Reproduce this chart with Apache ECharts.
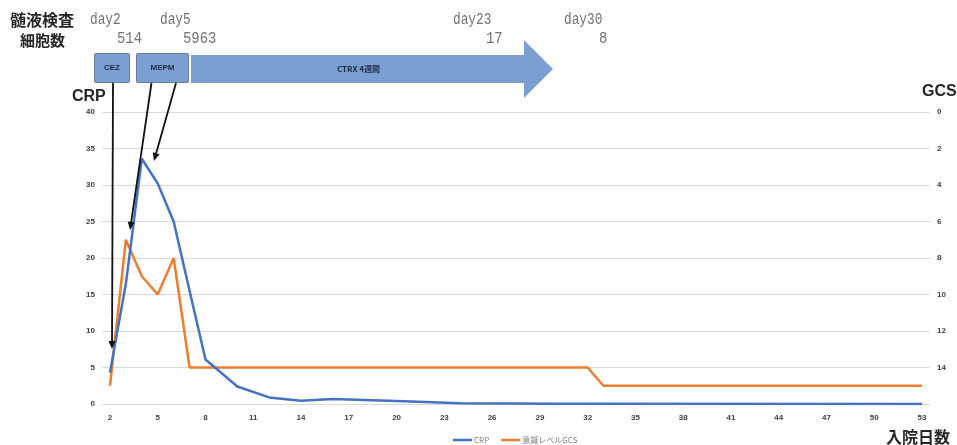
<!DOCTYPE html>
<html>
<head>
<meta charset="utf-8">
<script src="https://cdn.jsdelivr.net/npm/echarts@6/dist/echarts.min.js"></script>
<style>
  html, body { margin: 0; padding: 0; background: #fff; }
  #chart { width: 957px; height: 445px; }
</style>
</head>
<body>
<div id="chart"></div>
<script>
// Hospital days on the category axis
const days = [2,3,4,5,6,7,8,9,10,11,12,13,14,15,16,17,18,19,20,21,22,23,24,25,26,27,
  28,29,30,31,32,33,34,35,36,37,38,39,40,41,42,43,44,45,46,47,48,49,50,51,52,53];

// CRP measurements (mg/dL) on the days they were taken
const crpDays   = [2,   3,    4,    5,    6,  7,    8,   10,  12,  14,   16,  20,  24,  30,   53];
const crpValues = [4.3, 16.5, 33.6, 30.2, 25, 15.5, 6.1, 2.4, 0.9, 0.45, 0.7, 0.4, 0.1, 0.05, 0];

// Glasgow Coma Scale on the days it changed
const gcsDays   = [2,  3, 4, 5,  6, 7,  32, 33, 53];
const gcsValues = [15, 7, 9, 10, 8, 14, 14, 15, 15];

// Cerebrospinal fluid cell counts
const csfDayLabels = ['day2', 'day5', 'day23', 'day30'];
const csfCellCounts = ['514', '5963', '17', '8'];

// Antibiotic courses
const drugNames = ['CEZ', 'MEPM', 'CTRX 4週間'];

const seriesNames = ['CRP', '意識レベルGCS'];

function toSeries(readDays, readValues) {
  return days.map(d => {
    const i = readDays.indexOf(d);
    return i >= 0 ? readValues[i] : null;
  });
}

const chart = echarts.init(document.getElementById('chart'), null, { renderer: 'canvas' });

const tickFont = { fontSize: 8, fontWeight: 'bold', color: '#404040', fontFamily: 'Liberation Sans, Arial, sans-serif' };
const boxFill = '#7b9fd2';

// Small helper for the black pointer arrows
function arrow(x1, y1, x2, y2) {
  const ang = Math.atan2(y2 - y1, x2 - x1);
  const len = 8, w = 3.5;
  const bx = x2 - len * Math.cos(ang), by = y2 - len * Math.sin(ang);
  const px = -Math.sin(ang) * w, py = Math.cos(ang) * w;
  return [
    { type: 'line', shape: { x1: x1, y1: y1, x2: bx, y2: by }, style: { stroke: '#111', lineWidth: 1.8 }, z: 100 },
    { type: 'polygon', shape: { points: [[x2, y2], [bx + px, by + py], [bx - px, by - py]] }, style: { fill: '#111' }, z: 100 }
  ];
}

function monoText(text, x, y, size, sx, color) {
  return {
    type: 'text', x: x, y: y, scaleX: sx, z: 100,
    style: { text: text, fontSize: size, fontFamily: 'Liberation Mono, DejaVu Sans Mono, monospace',
      fill: color, textVerticalAlign: 'middle' }
  };
}

const cjkFont = '"Noto Sans CJK JP", sans-serif';

const graphics = [
  { type: 'text', x: 10, y: 20, z: 100, style: { text: '髄液検査', fontSize: 16, fontWeight: 'bold', fontFamily: cjkFont, fill: '#262626', textVerticalAlign: 'middle' } },
  { type: 'text', x: 20, y: 40, z: 100, style: { text: '細胞数', fontSize: 15, fontWeight: 'bold', fontFamily: cjkFont, fill: '#262626', textVerticalAlign: 'middle' } },

  monoText(csfDayLabels[0], 90, 20, 16, 0.8, '#767171'),
  monoText(csfCellCounts[0], 117, 38, 17, 0.82, '#767171'),
  monoText(csfDayLabels[1], 160, 20, 16, 0.8, '#767171'),
  monoText(csfCellCounts[1], 183, 38, 17, 0.82, '#767171'),
  monoText(csfDayLabels[2], 453, 20, 16, 0.8, '#767171'),
  monoText(csfCellCounts[2], 486, 38, 17, 0.82, '#767171'),
  monoText(csfDayLabels[3], 564, 20, 16, 0.8, '#767171'),
  monoText(csfCellCounts[3], 599, 38, 17, 0.82, '#767171'),

  // CEZ box
  { type: 'rect', shape: { x: 94.5, y: 53.5, width: 35, height: 29, r: 1 }, style: { fill: boxFill, stroke: '#6d7b92', lineWidth: 1 }, z: 90 },
  { type: 'text', x: 112, y: 68, z: 100, style: { text: drugNames[0], fontSize: 8, fontWeight: 'bold', fontFamily: 'Liberation Sans, Arial, sans-serif', fill: '#1f2b45', textAlign: 'center', textVerticalAlign: 'middle' } },
  // MEPM box
  { type: 'rect', shape: { x: 136.5, y: 53.5, width: 52, height: 29, r: 1 }, style: { fill: boxFill, stroke: '#6d7b92', lineWidth: 1 }, z: 90 },
  { type: 'text', x: 162.5, y: 68, z: 100, style: { text: drugNames[1], fontSize: 8, fontWeight: 'bold', fontFamily: 'Liberation Sans, Arial, sans-serif', fill: '#1f2b45', textAlign: 'center', textVerticalAlign: 'middle' } },
  // CTRX block arrow
  { type: 'polygon', shape: { points: [[191, 55], [524, 55], [524, 40], [553, 69], [524, 98], [524, 83], [191, 83]] }, style: { fill: boxFill }, z: 90 },
  { type: 'text', x: 337, y: 69, z: 100, style: { text: drugNames[2], fontSize: 8, fontWeight: 'bold', fontFamily: '"Noto Sans CJK JP", sans-serif', fill: '#1f2b45', textVerticalAlign: 'middle' } },

  // Axis titles
  { type: 'text', x: 72, y: 97, z: 100, style: { text: 'CRP', fontSize: 16, fontWeight: 'bold', fontFamily: 'Liberation Sans, Arial, sans-serif', fill: '#262626', textVerticalAlign: 'middle' } },
  { type: 'text', x: 922, y: 92, z: 100, style: { text: 'GCS', fontSize: 16, fontWeight: 'bold', fontFamily: 'Liberation Sans, Arial, sans-serif', fill: '#262626', textVerticalAlign: 'middle' } },
  { type: 'text', x: 886, y: 437, z: 100, style: { text: '入院日数', fontSize: 16, fontWeight: 'bold', fontFamily: cjkFont, fill: '#262626', textVerticalAlign: 'middle' } }
]
  .concat(arrow(113, 83, 112, 349))
  .concat(arrow(151.5, 83, 130, 230))
  .concat(arrow(176, 83, 154, 161));

chart.setOption({
  animation: false,
  backgroundColor: '#ffffff',
  grid: { left: 102, right: 27, top: 112, bottom: 41 },
  legend: {
    data: seriesNames,
    left: 448, top: 431,
    icon: 'rect', itemWidth: 19, itemHeight: 2.5, itemGap: 12,
    textStyle: { fontSize: 8, color: '#808080', fontFamily: '"Noto Sans CJK JP", sans-serif', padding: [0, 0, 0, -3] }
  },
  xAxis: {
    type: 'category',
    data: days.map(String),
    boundaryGap: true,
    axisTick: { show: false },
    axisLine: { lineStyle: { color: '#d9d9d9', width: 1 } },
    axisLabel: Object.assign({ interval: 2, margin: 10 }, tickFont)
  },
  yAxis: [
    {
      type: 'value', min: 0, max: 40, interval: 5,
      axisLine: { show: false }, axisTick: { show: false },
      splitLine: { lineStyle: { color: '#d9d9d9', width: 1 } },
      axisLabel: Object.assign({ margin: 7 }, tickFont)
    },
    {
      type: 'value', min: 0, max: 16, interval: 2, inverse: true,
      axisLine: { show: false }, axisTick: { show: false },
      splitLine: { show: false },
      axisLabel: Object.assign({ margin: 7, formatter: v => (v === 16 ? '' : String(v)) }, tickFont)
    }
  ],
  series: [
    {
      name: seriesNames[0], type: 'line', yAxisIndex: 0,
      data: toSeries(crpDays, crpValues), connectNulls: true,
      showSymbol: false, symbol: 'none',
      lineStyle: { color: '#4472c4', width: 2.5 }, itemStyle: { color: '#4472c4' }, z: 3
    },
    {
      name: seriesNames[1], type: 'line', yAxisIndex: 1,
      data: toSeries(gcsDays, gcsValues), connectNulls: true,
      showSymbol: false, symbol: 'none',
      lineStyle: { color: '#ed7d31', width: 2.5 }, itemStyle: { color: '#ed7d31' }, z: 2
    }
  ],
  graphic: graphics
});
</script>
</body>
</html>
